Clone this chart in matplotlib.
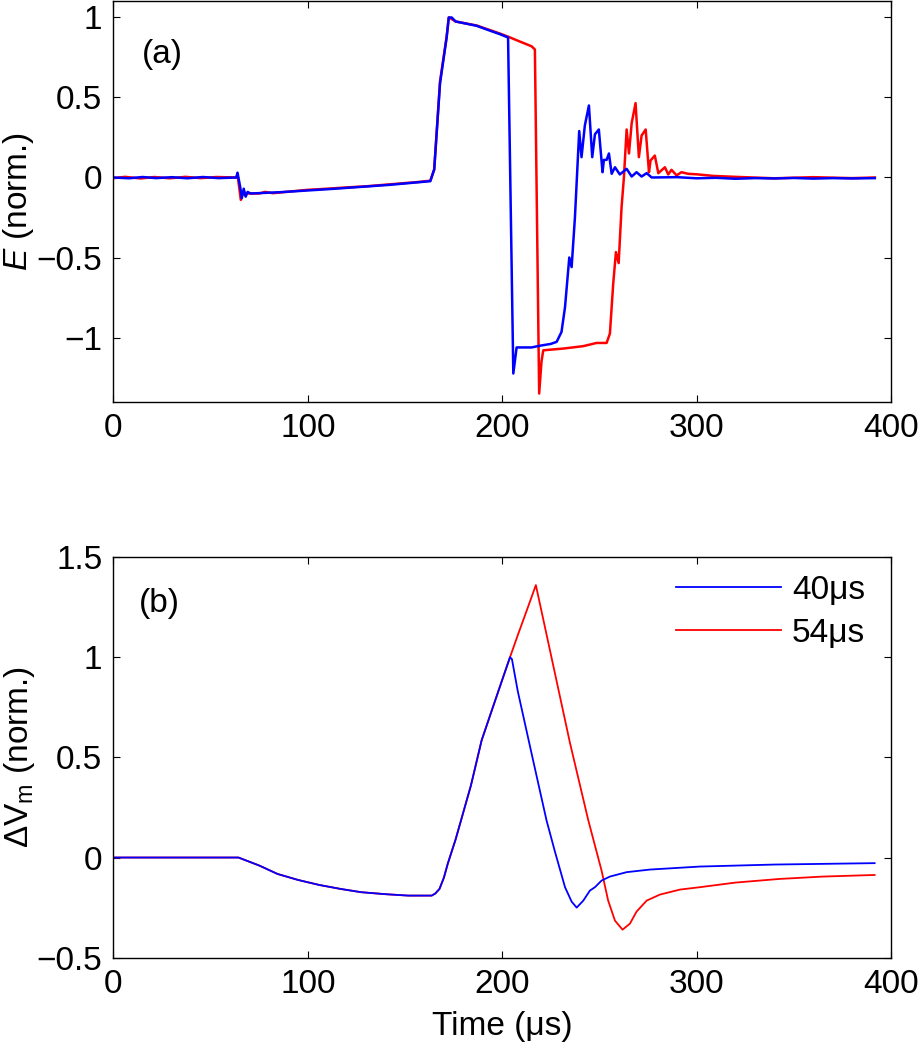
import numpy as np
import matplotlib
matplotlib.use('Agg')
import matplotlib.pyplot as plt

plt.rcParams['font.family'] = ['Liberation Sans', 'DejaVu Sans']
plt.rcParams['mathtext.fontset'] = 'custom'
plt.rcParams['mathtext.rm'] = 'Liberation Sans'
plt.rcParams['mathtext.it'] = 'Liberation Sans:italic'

FS = 24

# (a) electric field, normalised -- 40 us pulse (blue)
e40_t = [0, 8, 15, 22, 30, 38, 46, 54, 63.2, 63.8, 65.2, 66, 67, 68, 69, 70.5,
         85.6, 113, 142, 163, 165, 168, 171.4, 172.5, 174, 176, 186.8, 192, 198.7,
         203, 205.7, 207.4, 215.1, 220, 225, 228, 230.5, 232.3, 234.5, 235.7, 237.4,
         239.6, 240.8, 242.5, 244.6, 246.3, 247.7, 249.7, 251.6, 252.3, 253.7, 254.9,
         256.3, 258, 260.5, 264, 266.6, 269.1, 271.7, 274.3, 276.9, 290, 300, 310,
         320, 330, 340, 350, 360, 370, 380, 391.7]
e40_v = [0.0, -0.005, 0.003, -0.004, 0.002, -0.005, 0.003, -0.004, 0.0, 0.03, -0.06,
         -0.13, -0.07, -0.12, -0.09, -0.10, -0.092, -0.071, -0.046, -0.023, 0.05, 0.59,
         0.875, 1.0, 1.0, 0.975, 0.948, 0.925, 0.896, 0.875, -1.225, -1.062, -1.062,
         -1.05, -1.04, -1.027, -0.965, -0.81, -0.5, -0.56, -0.25, 0.29, 0.127, 0.325,
         0.45, 0.127, 0.27, 0.30, 0.033, 0.11, 0.11, 0.15, 0.023, 0.064, 0.019, 0.054,
         0.006, 0.033, 0.006, 0.027, 0.0, 0.002, -0.005, -0.002, -0.008, -0.004,
         -0.006, -0.003, -0.007, -0.004, -0.006, -0.004]

# (a) electric field -- 54 us pulse (red)
e54_t = [0, 6, 14, 21, 29, 37, 45, 53, 63.2, 63.8, 65.5, 66.5, 67.5, 69, 75, 78, 82,
         100, 110, 120, 130, 140, 150, 157, 163, 165, 168, 171.4, 172.5, 174, 176,
         186.8, 198.7, 203, 210, 215.1, 216.8, 219, 220.2, 221.1, 231.4, 241.7, 248.5,
         253.7, 255.4, 257.1, 258.5, 259.9, 261.4, 262.6, 264, 265.2, 266.6, 268.6,
         270.3, 271.7, 273.8, 275.5, 276.3, 278.5, 280.3, 283.7, 285.4, 287.1, 289.7,
         292.2, 295.7, 300, 308.5, 320, 340, 360, 380, 391.7]
e54_v = [-0.004, 0.004, -0.006, 0.003, -0.005, 0.004, -0.004, 0.003, 0.0, 0.02, -0.14,
         -0.09, -0.11, -0.10, -0.10, -0.09, -0.098, -0.077, -0.07, -0.062, -0.055,
         -0.045, -0.035, -0.028, -0.02, 0.05, 0.60, 0.88, 1.0, 0.99, 0.975, 0.95, 0.90,
         0.88, 0.845, 0.82, 0.80, -1.35, -1.15, -1.08, -1.069, -1.054, -1.034, -1.034,
         -0.975, -0.663, -0.466, -0.535, -0.185, 0.0, 0.30, 0.15, 0.34, 0.465, 0.127,
         0.262, 0.30, 0.033, 0.106, 0.137, 0.027, 0.064, 0.019, 0.048, 0.013, 0.033,
         0.023, 0.02, 0.01, 0.004, -0.005, 0.002, -0.004, 0.0]

# (b) membrane potential change, normalised
v40_t = [0, 20, 40, 64.3, 75, 84.4, 95, 105.9, 117, 127.4, 140, 151.6, 163.7, 165.5,
         167.7, 170, 172, 176, 183.9, 189.4, 195, 200, 204, 205, 208, 216, 222.8,
         227.1, 232.3, 235.7, 238.3, 241.7, 245.1, 247.7, 251.1, 255.4, 264, 276,
         301.7, 340, 391.6]
v40_v = [0, 0, 0, 0, -0.04, -0.082, -0.112, -0.137, -0.157, -0.173, -0.183, -0.19,
         -0.19, -0.18, -0.157, -0.10, -0.03, 0.09, 0.36, 0.585, 0.745, 0.887, 1.0,
         0.99, 0.83, 0.48, 0.185, 0.03, -0.148, -0.22, -0.25, -0.215, -0.165,
         -0.148, -0.115, -0.095, -0.073, -0.06, -0.045, -0.035, -0.028]

v54_t = [0, 20, 40, 64.3, 75, 84.4, 95, 105.9, 117, 127.4, 140, 151.6, 163.7, 165.5,
         167.7, 170, 172, 176, 183.9, 189.4, 195, 200, 204, 208, 212.5, 217.3, 234.9,
         244.3, 251.1, 254.5, 258, 261.9, 265.7, 269.1, 274.3, 281.1, 291.4, 301.7,
         320, 342.4, 365, 391.6]
v54_v = [0, 0, 0, 0, -0.04, -0.082, -0.112, -0.137, -0.157, -0.173, -0.183, -0.19,
         -0.19, -0.18, -0.157, -0.10, -0.03, 0.09, 0.36, 0.585, 0.745, 0.887, 1.0,
         1.11, 1.23, 1.36, 0.57, 0.185, -0.065, -0.215, -0.315, -0.36, -0.33, -0.27,
         -0.215, -0.185, -0.16, -0.148, -0.125, -0.107, -0.095, -0.087]

xticks = [0, 100, 200, 300, 400]
a_yticks = [-1, -0.5, 0, 0.5, 1]
a_ylabels = ['\u22121', '\u22120.5', '0', '0.5', '1']
b_yticks = [-0.5, 0, 0.5, 1, 1.5]
b_ylabels = ['\u22120.5', '0', '0.5', '1', '1.5']
legend_labels = ['40\u03bcs', '54\u03bcs']


def style_axes(ax):
    ax.tick_params(direction='in', length=5, width=0.8, top=True, right=True,
                   labelsize=FS, pad=8)
    for sp in ax.spines.values():
        sp.set_linewidth(1.0)
    ax.set_xlim(0, 400)
    ax.set_xticks(xticks)


fig = plt.figure(figsize=(9.19, 10.5), dpi=100)
ax1 = fig.add_axes([0.1235, 0.6176, 0.846, 0.381])
ax2 = fig.add_axes([0.1235, 0.0879, 0.846, 0.3816])

ax1.plot(e54_t, e54_v, color='red', lw=1.8)
ax1.plot(e40_t, e40_v, color='blue', lw=1.8)
style_axes(ax1)
ax1.set_ylim(-1.4, 1.1)
ax1.set_yticks(a_yticks)
ax1.set_yticklabels(a_ylabels)
ax1.set_ylabel(r'$\it{E}$ (norm.)', fontsize=FS)
ax1.yaxis.set_label_coords(-0.1, 0.5)
ax1.text(14.5, 0.77, '(a)', fontsize=FS, ha='left', va='center')

l54, = ax2.plot(v54_t, v54_v, color='red', lw=1.3)
l40, = ax2.plot(v40_t, v40_v, color='blue', lw=1.3)
style_axes(ax2)
ax2.set_ylim(-0.5, 1.5)
ax2.set_yticks(b_yticks)
ax2.set_yticklabels(b_ylabels)
ax2.set_ylabel(r'$\Delta\mathrm{V}_\mathrm{m}$ (norm.)', fontsize=FS)
ax2.yaxis.set_label_coords(-0.098, 0.5)
ax2.set_xlabel('Time (\u03bcs)', fontsize=FS, labelpad=8)
ax2.text(13, 1.268, '(b)', fontsize=FS, ha='left', va='center')
ax2.legend([l40, l54], legend_labels, loc='upper right', frameon=False,
           fontsize=FS, bbox_to_anchor=(0.967, 0.955), borderaxespad=0,
           borderpad=0, handlelength=3.15, handletextpad=0.33, labelspacing=0.35)

fig.savefig('out.png', dpi=100)
